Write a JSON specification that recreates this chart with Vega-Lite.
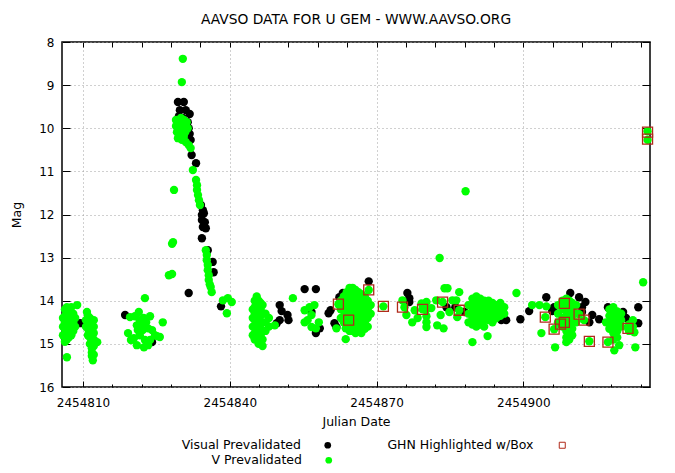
{
  "$schema": "https://vega.github.io/schema/vega-lite/v6.json",
  "width": 588,
  "height": 345,
  "autosize": {"type": "none"},
  "padding": {"left": 62, "top": 42, "right": 25, "bottom": 86},
  "background": "white",
  "title": {"text": "AAVSO DATA FOR U GEM - WWW.AAVSO.ORG", "font": "DejaVu Sans", "fontSize": 13.8, "fontWeight": "normal", "color": "black", "offset": 9, "anchor": "middle"},
  "config": {
    "view": {"stroke": "black", "strokeWidth": 1.5},
    "axis": {"labelFont": "DejaVu Sans", "titleFont": "DejaVu Sans", "labelColor": "black", "titleColor": "black", "tickColor": "black", "domain": false, "titleFontWeight": "normal", "labelFontSize": 12, "titleFontSize": 12.5, "gridColor": "#a0a0a0", "gridDash": [1, 3], "gridWidth": 1, "labelFlush": false, "labelOverlap": false},
    "legend": {"labelFont": "DejaVu Sans", "labelFontSize": 12.5, "labelColor": "black"}
  },
  "datasets": {
    "visual": [
      {"jd":2454809.4,"mag":14.52},{"jd":2454818.6,"mag":14.33},{"jd":2454824.1,"mag":14.96},
      {"jd":2454829.4,"mag":9.39},{"jd":2454830.6,"mag":9.39},{"jd":2454829.8,"mag":9.58},{"jd":2454831.0,"mag":9.58},{"jd":2454829.6,"mag":9.72},{"jd":2454831.8,"mag":9.67},{"jd":2454830.4,"mag":9.76},{"jd":2454831.4,"mag":9.86},{"jd":2454831.6,"mag":10.0},{"jd":2454831.8,"mag":10.13},{"jd":2454832.0,"mag":10.27},{"jd":2454832.2,"mag":10.62},{"jd":2454833.1,"mag":10.81},
      {"jd":2454834.1,"mag":11.78},{"jd":2454834.5,"mag":11.9},{"jd":2454834.3,"mag":12.01},{"jd":2454834.7,"mag":11.97},{"jd":2454834.3,"mag":12.13},{"jd":2454834.9,"mag":12.18},{"jd":2454834.5,"mag":12.29},{"jd":2454835.1,"mag":12.32},{"jd":2454834.3,"mag":12.55},{"jd":2454835.5,"mag":12.83},{"jd":2454836.5,"mag":13.10},{"jd":2454836.7,"mag":13.34},{"jd":2454831.6,"mag":13.82},{"jd":2454838.2,"mag":14.13},
      {"jd":2454850.2,"mag":14.10},{"jd":2454850.6,"mag":14.24},{"jd":2454850.2,"mag":14.45},{"jd":2454851.8,"mag":14.33},{"jd":2454852.0,"mag":14.45},{"jd":2454849.6,"mag":14.52},{"jd":2454855.3,"mag":13.73},{"jd":2454857.6,"mag":13.73},{"jd":2454856.7,"mag":14.26},{"jd":2454858.4,"mag":14.64},{"jd":2454857.6,"mag":14.75},
      {"jd":2454860.6,"mag":14.22},{"jd":2454860.2,"mag":14.29},{"jd":2454861.4,"mag":14.52},{"jd":2454861.8,"mag":14.61},{"jd":2454862.4,"mag":13.92},{"jd":2454863.1,"mag":13.82},{"jd":2454868.4,"mag":13.55},
      {"jd":2454876.3,"mag":13.82},{"jd":2454876.7,"mag":13.94},{"jd":2454876.7,"mag":14.03},{"jd":2454884.3,"mag":14.15},{"jd":2454886.1,"mag":14.15},{"jd":2454888.0,"mag":14.26},
      {"jd":2454894.7,"mag":14.22},{"jd":2454895.5,"mag":14.45},{"jd":2454896.5,"mag":14.45},{"jd":2454899.4,"mag":14.43},{"jd":2454901.2,"mag":14.24},{"jd":2454904.7,"mag":13.92},{"jd":2454906.3,"mag":14.15},{"jd":2454905.9,"mag":14.24},
      {"jd":2454909.6,"mag":13.82},{"jd":2454911.4,"mag":13.92},{"jd":2454912.7,"mag":14.03},{"jd":2454912.0,"mag":14.15},{"jd":2454912.0,"mag":14.26},{"jd":2454914.1,"mag":14.33},{"jd":2454915.5,"mag":14.43},{"jd":2454913.5,"mag":14.50},
      {"jd":2454917.3,"mag":14.15},{"jd":2454920.4,"mag":14.26},{"jd":2454921.0,"mag":14.40},{"jd":2454923.5,"mag":14.15},{"jd":2454923.5,"mag":14.52}
    ],
    "v": [
      {"jd":2454805.9,"mag":14.4},{"jd":2454805.9,"mag":14.6},{"jd":2454805.9,"mag":14.8},
      {"jd":2454806.3,"mag":14.2},{"jd":2454806.3,"mag":14.35},{"jd":2454806.3,"mag":14.5},{"jd":2454806.3,"mag":14.65},{"jd":2454806.3,"mag":14.8},{"jd":2454806.3,"mag":14.95},
      {"jd":2454806.7,"mag":14.15},{"jd":2454806.7,"mag":14.3},{"jd":2454806.7,"mag":14.45},{"jd":2454806.7,"mag":14.6},{"jd":2454806.7,"mag":14.75},{"jd":2454806.7,"mag":14.9},{"jd":2454806.7,"mag":15.31},
      {"jd":2454807.1,"mag":14.2},{"jd":2454807.1,"mag":14.4},{"jd":2454807.1,"mag":14.55},{"jd":2454807.1,"mag":14.7},{"jd":2454807.1,"mag":14.85},
      {"jd":2454807.6,"mag":14.15},{"jd":2454807.6,"mag":14.35},{"jd":2454807.6,"mag":14.5},{"jd":2454807.6,"mag":14.65},{"jd":2454807.6,"mag":14.8},
      {"jd":2454808.0,"mag":14.3},{"jd":2454808.0,"mag":14.5},{"jd":2454808.0,"mag":14.7},
      {"jd":2454808.4,"mag":14.4},{"jd":2454808.4,"mag":14.6},{"jd":2454808.8,"mag":14.1},
      {"jd":2454810.8,"mag":14.26},{"jd":2454810.6,"mag":14.45},{"jd":2454810.6,"mag":14.6},
      {"jd":2454811.0,"mag":14.35},{"jd":2454811.0,"mag":14.5},{"jd":2454811.0,"mag":14.65},{"jd":2454811.0,"mag":14.8},
      {"jd":2454811.4,"mag":14.4},{"jd":2454811.4,"mag":14.55},{"jd":2454811.4,"mag":14.7},{"jd":2454811.4,"mag":14.85},{"jd":2454811.4,"mag":15.0},
      {"jd":2454811.8,"mag":14.5},{"jd":2454811.8,"mag":14.65},{"jd":2454811.8,"mag":14.8},{"jd":2454811.8,"mag":14.95},{"jd":2454811.8,"mag":15.1},{"jd":2454811.8,"mag":15.2},{"jd":2454811.8,"mag":15.28},
      {"jd":2454812.2,"mag":14.45},{"jd":2454812.2,"mag":14.6},{"jd":2454812.2,"mag":14.75},{"jd":2454812.2,"mag":14.9},{"jd":2454812.2,"mag":15.05},{"jd":2454812.2,"mag":15.25},
      {"jd":2454812.0,"mag":15.38},{"jd":2454812.9,"mag":14.96},
      {"jd":2454822.65,"mag":13.94},{"jd":2454821.4,"mag":14.26},{"jd":2454820.6,"mag":14.36},{"jd":2454819.6,"mag":14.38},{"jd":2454819.2,"mag":14.75},{"jd":2454819.8,"mag":14.91},{"jd":2454820.4,"mag":14.87},{"jd":2454821.0,"mag":14.57},{"jd":2454821.6,"mag":14.45},{"jd":2454822.0,"mag":14.57},{"jd":2454822.2,"mag":14.68},{"jd":2454821.6,"mag":14.80},{"jd":2454822.4,"mag":14.40},{"jd":2454822.9,"mag":14.50},{"jd":2454823.3,"mag":14.64},{"jd":2454821.2,"mag":14.68},{"jd":2454822.65,"mag":14.91},{"jd":2454823.7,"mag":14.91},{"jd":2454823.3,"mag":15.03},{"jd":2454824.1,"mag":14.68},{"jd":2454824.7,"mag":14.80},{"jd":2454825.1,"mag":14.82},{"jd":2454825.7,"mag":14.84},{"jd":2454826.3,"mag":14.50},{"jd":2454822.45,"mag":15.08},{"jd":2454821.0,"mag":15.03},{"jd":2454823.7,"mag":14.36},
      {"jd":2454830.4,"mag":8.39},{"jd":2454830.2,"mag":8.93},
      {"jd":2454829.0,"mag":9.81},{"jd":2454829.0,"mag":9.95},{"jd":2454829.2,"mag":10.09},{"jd":2454829.4,"mag":10.23},{"jd":2454829.6,"mag":9.86},{"jd":2454829.8,"mag":10.0},{"jd":2454829.8,"mag":10.13},{"jd":2454830.0,"mag":9.76},{"jd":2454830.2,"mag":9.90},{"jd":2454830.2,"mag":10.27},{"jd":2454830.4,"mag":10.04},{"jd":2454830.6,"mag":9.81},{"jd":2454830.6,"mag":10.18},{"jd":2454830.8,"mag":9.95},{"jd":2454830.9,"mag":10.09},{"jd":2454831.2,"mag":9.86},{"jd":2454831.4,"mag":10.0},{"jd":2454831.0,"mag":10.32},{"jd":2454831.6,"mag":10.39},{"jd":2454832.0,"mag":10.46},
      {"jd":2454832.45,"mag":10.97},{"jd":2454833.1,"mag":11.20},{"jd":2454833.3,"mag":11.32},{"jd":2454833.3,"mag":11.43},{"jd":2454833.5,"mag":11.55},{"jd":2454833.7,"mag":11.67},{"jd":2454833.9,"mag":11.78},
      {"jd":2454828.6,"mag":11.43},{"jd":2454828.4,"mag":12.64},{"jd":2454828.2,"mag":12.68},
      {"jd":2454835.1,"mag":12.83},{"jd":2454835.3,"mag":12.94},{"jd":2454835.3,"mag":13.06},{"jd":2454835.5,"mag":13.17},{"jd":2454835.5,"mag":13.29},{"jd":2454835.7,"mag":13.41},{"jd":2454835.7,"mag":13.52},{"jd":2454835.9,"mag":13.62},{"jd":2454836.1,"mag":13.68},
      {"jd":2454827.55,"mag":13.41},{"jd":2454828.2,"mag":13.38},{"jd":2454836.3,"mag":13.80},{"jd":2454838.6,"mag":13.99},{"jd":2454839.6,"mag":13.94},{"jd":2454840.4,"mag":14.03},{"jd":2454839.4,"mag":14.29},
      {"jd":2454844.7,"mag":14.2},{"jd":2454844.7,"mag":14.4},{"jd":2454844.7,"mag":14.6},{"jd":2454844.7,"mag":14.8},
      {"jd":2454845.1,"mag":14.0},{"jd":2454845.1,"mag":14.15},{"jd":2454845.1,"mag":14.3},{"jd":2454845.1,"mag":14.45},{"jd":2454845.1,"mag":14.6},{"jd":2454845.1,"mag":14.75},{"jd":2454845.1,"mag":14.9},
      {"jd":2454845.5,"mag":13.9},{"jd":2454845.5,"mag":14.1},{"jd":2454845.5,"mag":14.25},{"jd":2454845.5,"mag":14.4},{"jd":2454845.5,"mag":14.55},{"jd":2454845.5,"mag":14.7},{"jd":2454845.5,"mag":14.85},
      {"jd":2454845.9,"mag":14.0},{"jd":2454845.9,"mag":14.15},{"jd":2454845.9,"mag":14.3},{"jd":2454845.9,"mag":14.45},{"jd":2454845.9,"mag":14.6},{"jd":2454845.9,"mag":14.75},{"jd":2454845.9,"mag":14.9},{"jd":2454845.9,"mag":15.0},
      {"jd":2454846.3,"mag":14.05},{"jd":2454846.3,"mag":14.2},{"jd":2454846.3,"mag":14.35},{"jd":2454846.3,"mag":14.5},{"jd":2454846.3,"mag":14.65},{"jd":2454846.3,"mag":14.8},{"jd":2454846.3,"mag":14.95},
      {"jd":2454846.7,"mag":14.1},{"jd":2454846.7,"mag":14.3},{"jd":2454846.7,"mag":14.5},{"jd":2454846.7,"mag":14.7},{"jd":2454846.7,"mag":14.9},{"jd":2454846.7,"mag":15.05},
      {"jd":2454847.3,"mag":14.3},{"jd":2454847.3,"mag":14.5},{"jd":2454847.3,"mag":14.7},{"jd":2454848.0,"mag":14.4},{"jd":2454848.0,"mag":14.6},{"jd":2454849.2,"mag":14.57},
      {"jd":2454852.9,"mag":13.94},{"jd":2454855.3,"mag":14.22},{"jd":2454856.3,"mag":14.15},{"jd":2454857.3,"mag":14.10},{"jd":2454856.7,"mag":14.33},{"jd":2454855.3,"mag":14.50},{"jd":2454856.7,"mag":14.61},{"jd":2454858.2,"mag":14.50},{"jd":2454857.6,"mag":14.64},{"jd":2454855.9,"mag":14.45},{"jd":2454861.8,"mag":14.64},{"jd":2454863.7,"mag":14.64},{"jd":2454863.7,"mag":14.89},
      {"jd":2454862.7,"mag":14.0},{"jd":2454862.7,"mag":14.2},{"jd":2454862.7,"mag":14.4},
      {"jd":2454863.3,"mag":13.9},{"jd":2454863.3,"mag":14.05},{"jd":2454863.3,"mag":14.2},{"jd":2454863.3,"mag":14.35},{"jd":2454863.3,"mag":14.5},
      {"jd":2454863.9,"mag":13.8},{"jd":2454863.9,"mag":13.95},{"jd":2454863.9,"mag":14.1},{"jd":2454863.9,"mag":14.25},{"jd":2454863.9,"mag":14.4},{"jd":2454863.9,"mag":14.55},
      {"jd":2454864.5,"mag":13.7},{"jd":2454864.5,"mag":13.85},{"jd":2454864.5,"mag":14.0},{"jd":2454864.5,"mag":14.15},{"jd":2454864.5,"mag":14.3},{"jd":2454864.5,"mag":14.45},{"jd":2454864.5,"mag":14.6},{"jd":2454864.5,"mag":14.7},
      {"jd":2454865.1,"mag":13.7},{"jd":2454865.1,"mag":13.85},{"jd":2454865.1,"mag":14.0},{"jd":2454865.1,"mag":14.15},{"jd":2454865.1,"mag":14.3},{"jd":2454865.1,"mag":14.45},{"jd":2454865.1,"mag":14.6},{"jd":2454865.1,"mag":14.7},
      {"jd":2454865.7,"mag":13.75},{"jd":2454865.7,"mag":13.9},{"jd":2454865.7,"mag":14.05},{"jd":2454865.7,"mag":14.2},{"jd":2454865.7,"mag":14.35},{"jd":2454865.7,"mag":14.5},{"jd":2454865.7,"mag":14.65},{"jd":2454865.7,"mag":14.75},
      {"jd":2454866.3,"mag":13.8},{"jd":2454866.3,"mag":13.95},{"jd":2454866.3,"mag":14.1},{"jd":2454866.3,"mag":14.25},{"jd":2454866.3,"mag":14.4},{"jd":2454866.3,"mag":14.55},{"jd":2454866.3,"mag":14.7},
      {"jd":2454866.9,"mag":13.85},{"jd":2454866.9,"mag":14.0},{"jd":2454866.9,"mag":14.15},{"jd":2454866.9,"mag":14.3},{"jd":2454866.9,"mag":14.45},{"jd":2454866.9,"mag":14.6},{"jd":2454866.9,"mag":14.75},
      {"jd":2454867.6,"mag":13.9},{"jd":2454867.6,"mag":14.05},{"jd":2454867.6,"mag":14.2},{"jd":2454867.6,"mag":14.35},{"jd":2454867.6,"mag":14.5},{"jd":2454867.6,"mag":14.65},
      {"jd":2454868.2,"mag":14.0},{"jd":2454868.2,"mag":14.2},{"jd":2454868.2,"mag":14.4},{"jd":2454868.2,"mag":14.6},{"jd":2454868.8,"mag":14.1},{"jd":2454868.8,"mag":14.3},
      {"jd":2454862.2,"mag":14.08},{"jd":2454864.3,"mag":14.45},{"jd":2454868.4,"mag":13.75},
      {"jd":2454871.4,"mag":14.13},{"jd":2454875.7,"mag":14.15},{"jd":2454875.3,"mag":13.99},{"jd":2454876.1,"mag":14.33},{"jd":2454877.3,"mag":14.50},{"jd":2454877.8,"mag":14.22},{"jd":2454878.4,"mag":14.40},{"jd":2454879.2,"mag":14.06},{"jd":2454879.4,"mag":14.20},
      {"jd":2454880.2,"mag":14.03},{"jd":2454880.2,"mag":14.20},{"jd":2454880.2,"mag":14.36},{"jd":2454880.2,"mag":14.50},{"jd":2454880.2,"mag":14.61},{"jd":2454881.2,"mag":14.17},{"jd":2454882.2,"mag":13.99},{"jd":2454882.4,"mag":14.57},
      {"jd":2454883.9,"mag":13.71},{"jd":2454884.5,"mag":13.71},{"jd":2454883.7,"mag":14.64},{"jd":2454885.5,"mag":13.99},{"jd":2454882.9,"mag":13.01},{"jd":2454883.5,"mag":14.03},
      {"jd":2454886.9,"mag":13.80},{"jd":2454886.3,"mag":13.99},{"jd":2454886.5,"mag":14.38},{"jd":2454884.9,"mag":14.26},{"jd":2454883.1,"mag":14.33},{"jd":2454886.9,"mag":14.22},
      {"jd":2454888.8,"mag":14.1},{"jd":2454888.8,"mag":14.3},{"jd":2454888.8,"mag":14.5},
      {"jd":2454889.6,"mag":13.95},{"jd":2454889.6,"mag":14.1},{"jd":2454889.6,"mag":14.25},{"jd":2454889.6,"mag":14.4},{"jd":2454889.6,"mag":14.55},
      {"jd":2454890.4,"mag":13.9},{"jd":2454890.4,"mag":14.05},{"jd":2454890.4,"mag":14.2},{"jd":2454890.4,"mag":14.35},{"jd":2454890.4,"mag":14.5},{"jd":2454890.4,"mag":14.6},
      {"jd":2454891.2,"mag":13.95},{"jd":2454891.2,"mag":14.1},{"jd":2454891.2,"mag":14.25},{"jd":2454891.2,"mag":14.4},{"jd":2454891.2,"mag":14.55},
      {"jd":2454892.0,"mag":14.0},{"jd":2454892.0,"mag":14.15},{"jd":2454892.0,"mag":14.3},{"jd":2454892.0,"mag":14.45},{"jd":2454892.0,"mag":14.6},
      {"jd":2454892.9,"mag":14.0},{"jd":2454892.9,"mag":14.15},{"jd":2454892.9,"mag":14.3},{"jd":2454892.9,"mag":14.45},
      {"jd":2454893.7,"mag":14.05},{"jd":2454893.7,"mag":14.2},{"jd":2454893.7,"mag":14.35},{"jd":2454893.7,"mag":14.5},
      {"jd":2454894.5,"mag":14.1},{"jd":2454894.5,"mag":14.25},{"jd":2454894.5,"mag":14.4},
      {"jd":2454895.3,"mag":14.05},{"jd":2454895.3,"mag":14.2},{"jd":2454895.3,"mag":14.35},{"jd":2454896.1,"mag":14.15},{"jd":2454896.1,"mag":14.3},
      {"jd":2454889.6,"mag":14.96},{"jd":2454892.7,"mag":14.82},{"jd":2454898.6,"mag":13.82},{"jd":2454888.2,"mag":11.46},
      {"jd":2454901.8,"mag":14.10},{"jd":2454903.3,"mag":14.10},{"jd":2454904.7,"mag":14.13},{"jd":2454903.7,"mag":14.75},
      {"jd":2454906.5,"mag":15.08},{"jd":2454908.8,"mag":14.96},
      {"jd":2454907.1,"mag":14.1},{"jd":2454907.1,"mag":14.3},{"jd":2454907.1,"mag":14.5},
      {"jd":2454908.0,"mag":14.0},{"jd":2454908.0,"mag":14.2},{"jd":2454908.0,"mag":14.4},{"jd":2454908.0,"mag":14.6},
      {"jd":2454908.8,"mag":13.95},{"jd":2454908.8,"mag":14.1},{"jd":2454908.8,"mag":14.25},{"jd":2454908.8,"mag":14.4},{"jd":2454908.8,"mag":14.55},{"jd":2454908.8,"mag":14.7},{"jd":2454908.8,"mag":14.85},
      {"jd":2454909.4,"mag":14.0},{"jd":2454909.4,"mag":14.15},{"jd":2454909.4,"mag":14.3},{"jd":2454909.4,"mag":14.45},{"jd":2454909.4,"mag":14.6},{"jd":2454909.4,"mag":14.75},{"jd":2454909.4,"mag":14.9},
      {"jd":2454910.0,"mag":14.05},{"jd":2454910.0,"mag":14.2},{"jd":2454910.0,"mag":14.35},{"jd":2454910.0,"mag":14.5},{"jd":2454910.0,"mag":14.65},{"jd":2454910.0,"mag":14.8},
      {"jd":2454910.8,"mag":14.1},{"jd":2454910.8,"mag":14.3},{"jd":2454910.8,"mag":14.5},
      {"jd":2454904.5,"mag":14.38},{"jd":2454906.3,"mag":14.66},{"jd":2454907.6,"mag":14.54},{"jd":2454908.4,"mag":14.06},{"jd":2454911.4,"mag":14.31},{"jd":2454912.4,"mag":14.45},{"jd":2454913.5,"mag":14.94},
      {"jd":2454916.9,"mag":14.50},{"jd":2454918.6,"mag":15.15},{"jd":2454919.6,"mag":15.03},{"jd":2454922.9,"mag":15.08},{"jd":2454922.7,"mag":14.73},
      {"jd":2454917.6,"mag":14.2},{"jd":2454917.6,"mag":14.35},{"jd":2454917.6,"mag":14.5},{"jd":2454917.6,"mag":14.65},
      {"jd":2454918.4,"mag":14.15},{"jd":2454918.4,"mag":14.3},{"jd":2454918.4,"mag":14.45},{"jd":2454918.4,"mag":14.6},{"jd":2454918.4,"mag":14.75},{"jd":2454918.4,"mag":14.9},
      {"jd":2454919.2,"mag":14.25},{"jd":2454919.2,"mag":14.4},{"jd":2454919.2,"mag":14.55},{"jd":2454919.2,"mag":14.7},{"jd":2454919.2,"mag":14.85},
      {"jd":2454920.0,"mag":14.3},{"jd":2454920.0,"mag":14.45},{"jd":2454920.0,"mag":14.6},
      {"jd":2454921.6,"mag":14.55},{"jd":2454921.6,"mag":14.7},{"jd":2454922.4,"mag":14.45},{"jd":2454922.4,"mag":14.6},
      {"jd":2454917.3,"mag":14.96},{"jd":2454921.4,"mag":14.64},
      {"jd":2454924.5,"mag":13.57},{"jd":2454925.4,"mag":10.07},{"jd":2454925.4,"mag":10.27}
    ],
    "box": [
      {"jd":2454862.2,"mag":14.08},{"jd":2454864.3,"mag":14.45},{"jd":2454868.4,"mag":13.75},{"jd":2454871.4,"mag":14.13},{"jd":2454875.3,"mag":14.15},{"jd":2454879.4,"mag":14.20},{"jd":2454883.5,"mag":14.03},{"jd":2454886.9,"mag":14.22},
      {"jd":2454904.5,"mag":14.38},{"jd":2454906.3,"mag":14.66},{"jd":2454907.6,"mag":14.54},{"jd":2454908.4,"mag":14.50},{"jd":2454908.4,"mag":14.06},{"jd":2454911.4,"mag":14.31},{"jd":2454912.4,"mag":14.45},{"jd":2454913.5,"mag":14.94},{"jd":2454917.3,"mag":14.96},{"jd":2454921.4,"mag":14.64},
      {"jd":2454925.4,"mag":10.09},{"jd":2454925.4,"mag":10.25}
    ]
  },
  "layer": [
    {
      "data": {"name": "visual"},
      "mark": {"type": "point", "filled": true, "shape": "circle", "size": 70, "opacity": 1, "strokeWidth": 0},
      "encoding": {
        "x": {"field": "jd", "type": "quantitative", "scale": {"domain": [2454805.7, 2454925.9], "nice": false, "zero": false},
              "axis": {"orient": "bottom", "values": [2454810, 2454840, 2454870, 2454900], "format": "d", "grid": true, "tickSize": -6, "labelPadding": 16, "title": "Julian Date", "titlePadding": 7}},
        "y": {"field": "mag", "type": "quantitative", "scale": {"domain": [8, 16], "reverse": true, "nice": false, "zero": false},
              "axis": {"orient": "left", "values": [8, 9, 10, 11, 12, 13, 14, 15, 16], "grid": true, "tickSize": -8, "labelPadding": 16, "title": "Mag", "titlePadding": 15}},
        "color": {"datum": "Visual Prevalidated", "type": "nominal", "scale": {"range": ["#000000"]},
                  "legend": {"title": null, "orient": "none", "legendX": 259.5, "legendY": 397, "symbolType": "circle", "symbolSize": 45, "labelAlign": "right", "labelOffset": -33, "padding": 0}}
      }
    },
    {
      "data": {"name": "v"},
      "mark": {"type": "point", "filled": true, "shape": "circle", "size": 70, "opacity": 1, "strokeWidth": 0},
      "encoding": {
        "x": {"field": "jd", "type": "quantitative",
              "axis": {"orient": "bottom", "values": [2454816, 2454822, 2454828, 2454834, 2454846, 2454852, 2454858, 2454864, 2454876, 2454882, 2454888, 2454894, 2454906, 2454912, 2454918, 2454924], "labels": false, "grid": false, "tickSize": -3, "title": null}},
        "y": {"field": "mag", "type": "quantitative",
              "axis": {"orient": "right", "values": [8, 9, 10, 11, 12, 13, 14, 15, 16], "labels": false, "grid": false, "tickSize": -8, "title": null}},
        "color": {"datum": "V Prevalidated", "type": "nominal", "scale": {"range": ["#00ff00"]},
                  "legend": {"title": null, "orient": "none", "legendX": 260.5, "legendY": 412, "symbolType": "circle", "symbolSize": 45, "labelAlign": "right", "labelOffset": -33, "padding": 0}}
      }
    },
    {
      "data": {"name": "box"},
      "mark": {"type": "point", "filled": false, "shape": "square", "size": 100, "opacity": 1, "strokeWidth": 1.3},
      "encoding": {
        "x": {"field": "jd", "type": "quantitative",
              "axis": {"orient": "top", "values": [2454810, 2454816, 2454822, 2454828, 2454834, 2454840, 2454846, 2454852, 2454858, 2454864, 2454870, 2454876, 2454882, 2454888, 2454894, 2454900, 2454906, 2454912, 2454918, 2454924], "labels": false, "grid": false, "tickSize": -5, "title": null}},
        "y": {"field": "mag", "type": "quantitative", "axis": null},
        "color": {"datum": "GHN Highlighted w/Box", "type": "nominal", "scale": {"range": ["#b02a1a"]},
                  "legend": {"title": null, "orient": "none", "legendX": 494, "legendY": 397, "symbolType": "square", "symbolSize": 36, "symbolStrokeWidth": 1, "labelAlign": "right", "labelOffset": -35, "padding": 0,
                             "encode": {"symbols": {"stroke": {"value": "#b4b4b4"}, "fill": {"value": "transparent"}}}}}
      }
    }
  ],
  "resolve": {"scale": {"color": "independent"}, "axis": {"x": "independent", "y": "independent"}}
}
